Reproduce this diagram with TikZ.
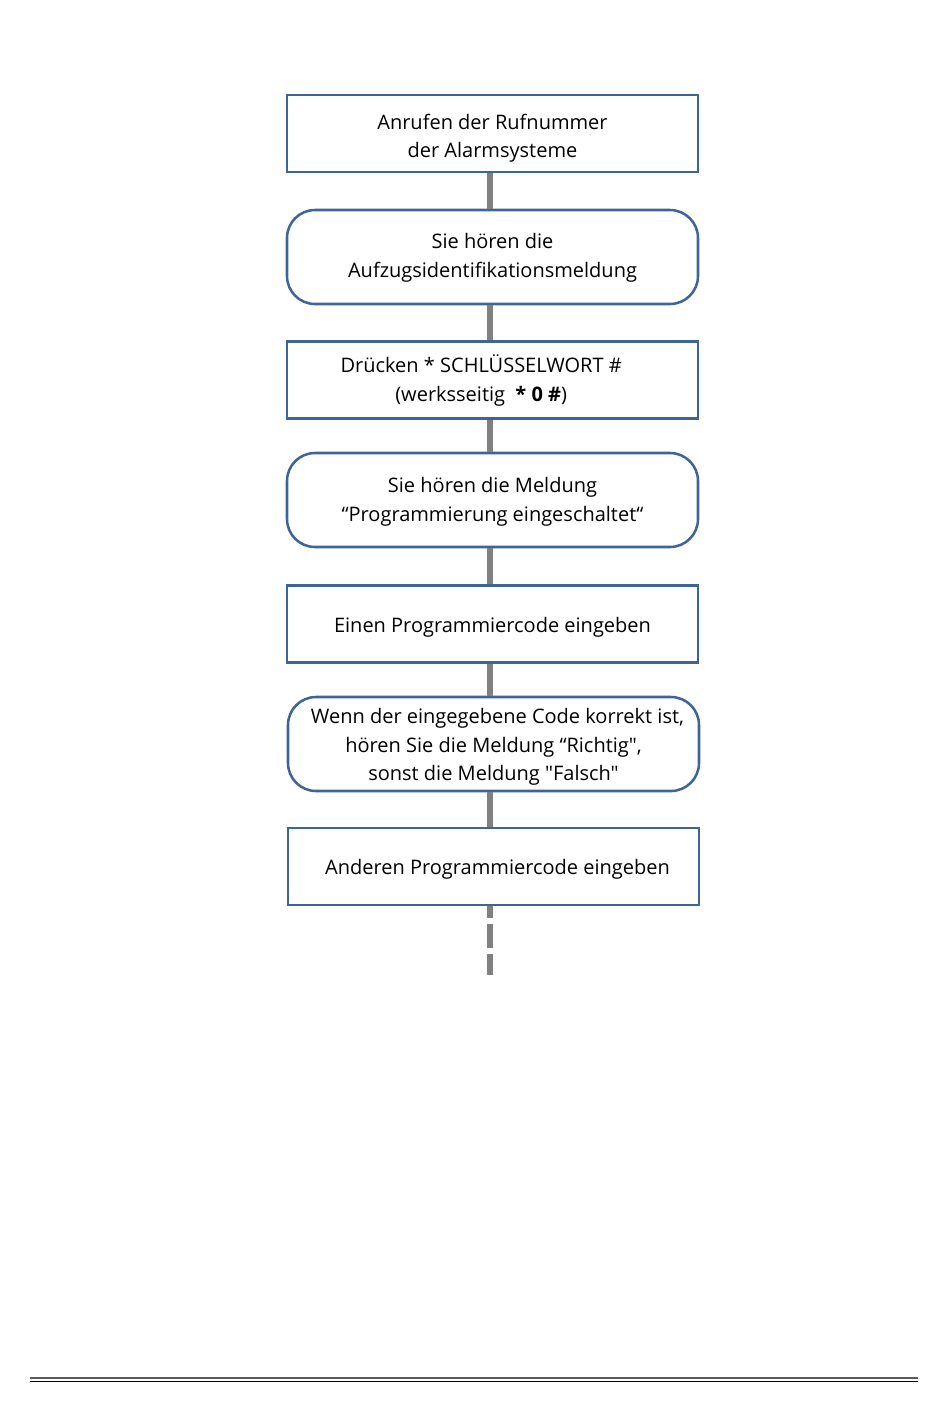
\documentclass[tikz,border=0pt]{standalone}
\usepackage{fontspec}
\setmainfont{Open Sans}[Ligatures=TeXOff]
\definecolor{boxblue}{HTML}{3F6497}
\definecolor{linegray}{HTML}{808080}
\definecolor{rulegray}{HTML}{5A5A5A}
\newcommand{\liftline}[1]{\rule{0pt}{#1}}
\begin{document}
\begin{tikzpicture}[x=0.75pt,y=-0.75pt,
  every node/.style={font=\fontsize{15}{21.4}\selectfont, align=center, inner sep=0pt},
  stepbox/.style={draw=boxblue, line width=1.9pt, minimum width=308.25pt, minimum height=57.75pt},
  msgbox/.style={draw=boxblue, line width=1.9pt, minimum width=308.25pt, minimum height=70.5pt, rounded corners=21pt},
  conn/.style={draw=linegray, line width=3.8pt}]
\path[use as bounding box] (0,0) rectangle (950,1411);
\coordinate (ax) at (490,0);
\node[stepbox] (b1) at (492.5,133.5) {\liftline{18.9pt}Anrufen der Rufnummer\\der Alarmsysteme};
\node[msgbox] (b2) at (492.5,257) {\liftline{12.9pt}Sie hören die\\Aufzugsidentifikationsmeldung};
\node[stepbox] (b3) at (492.5,380) {\hspace*{-17pt}\liftline{14.4pt}Drücken * SCHLÜSSELWORT \#\\\hspace*{-17pt}(werksseitig~ \textbf{* 0 \#})};
\node[msgbox] (b4) at (492.5,500) {\liftline{14.4pt}Sie hören die Meldung\\“Programmierung eingeschaltet“};
\node[stepbox] (b5) at (492.5,624) {\liftline{15.9pt}Einen Programmiercode eingeben};
\node[msgbox] (b6) at (493.5,744) {\hspace*{6pt}\liftline{15.9pt}Wenn der eingegebene Code korrekt ist,\\hören Sie die Meldung “Richtig",\\sonst die Meldung "Falsch"};
\node[stepbox] (b7) at (493.5,866.5) {\hspace*{6pt}\liftline{15.9pt}Anderen Programmiercode eingeben};
\coordinate (end) at (490,975);
\begin{scope}[on background layer/.try]
\draw[conn] (b1.south -| ax) -- (b2.north -| ax);
\draw[conn] (b2.south -| ax) -- (b3.north -| ax);
\draw[conn] (b3.south -| ax) -- (b4.north -| ax);
\draw[conn] (b4.south -| ax) -- (b5.north -| ax);
\draw[conn] (b5.south -| ax) -- (b6.north -| ax);
\draw[conn] (b6.south -| ax) -- (b7.north -| ax);
\draw[conn, dash pattern=on 18pt off 4.5pt, dash phase=9pt] (b7.south -| ax) -- (end);
\end{scope}
\coordinate (rl) at (30,1378);
\coordinate (rr) at (918,1378);
\coordinate (sl) at (30,1381.3);
\coordinate (sr) at (918,1381.3);
\draw[rulegray, line width=1.5pt] (rl) -- (rr);
\draw[black, line width=0.9pt] (sl) -- (sr);
\end{tikzpicture}
\end{document}
